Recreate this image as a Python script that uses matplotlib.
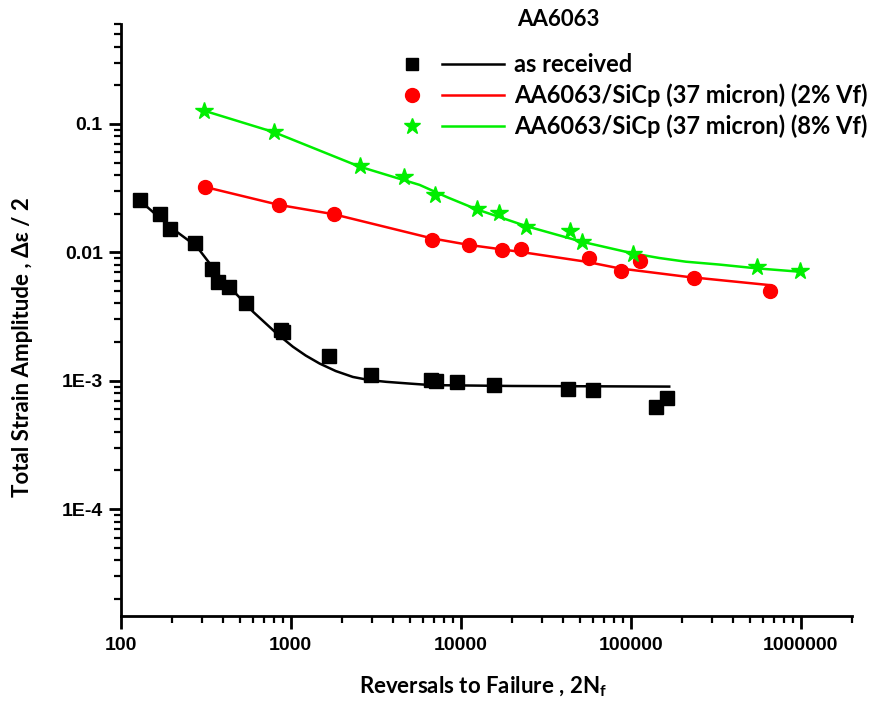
import matplotlib
matplotlib.use("Agg")
import matplotlib.pyplot as plt
from matplotlib.lines import Line2D
from matplotlib.legend_handler import HandlerTuple
from matplotlib.ticker import FixedLocator, FixedFormatter, NullFormatter, LogLocator

plt.rcParams["mathtext.fontset"] = "custom"
plt.rcParams["mathtext.bf"] = "Lato:bold"
plt.rcParams["mathtext.rm"] = "Lato:bold"

# puntos experimentales
x_recibido = [130, 170, 195, 273, 344, 373, 433, 546, 875, 900, 1670, 2960,
              6670, 7160, 9560, 15650, 42600, 60000, 140000, 163000]
y_recibido = [0.0255, 0.0199, 0.0152, 0.0118, 0.0074, 0.0059, 0.0054, 0.0040,
              0.0025, 0.0024, 0.00156, 0.00110, 0.00101, 0.00099, 0.00097,
              0.00093, 0.00086, 0.00084, 0.00062, 0.00073]

x_2vf = [313, 854, 1790, 6800, 11260, 17500, 22670, 57100, 87600, 113800,
         236000, 658000]
y_2vf = [0.0323, 0.0234, 0.0198, 0.0125, 0.0115, 0.0104, 0.0107, 0.0090,
         0.0071, 0.0085, 0.0063, 0.0050]

x_8vf = [308, 798, 2540, 4610, 7020, 12430, 16740, 24250, 44160, 51440,
         102500, 551500, 986000]
y_8vf = [0.127, 0.0862, 0.0473, 0.0388, 0.0280, 0.0218, 0.0204, 0.0157,
         0.0147, 0.0120, 0.0097, 0.00764, 0.00719]

# curvas de ajuste
xc_recibido = [130, 195, 280, 383, 601, 825, 1030, 1226, 1480, 1839, 2320,
               2913, 3650, 5003, 6710, 20000, 168400]
yc_recibido = [0.0252, 0.0158, 0.0111, 0.00646, 0.00344, 0.00234, 0.00184,
               0.00157, 0.00136, 0.00119, 0.00107, 0.00101, 0.00098, 0.00095,
               0.000924, 0.00091, 0.00090]

xc_2vf = [313, 854, 1790, 6740, 11260, 22150, 54600, 85700, 211000, 651000]
yc_2vf = [0.0323, 0.0234, 0.0198, 0.01286, 0.0114, 0.0101, 0.00845, 0.0075,
          0.00646, 0.00556]

xc_8vf = [308, 798, 2540, 5730, 8360, 12430, 24250, 51440, 102500, 147200,
          211100, 331300, 551500, 986000]
yc_8vf = [0.127, 0.0862, 0.0465, 0.0335, 0.0268, 0.0216, 0.0160, 0.0121,
          0.00982, 0.00903, 0.00845, 0.00803, 0.0075, 0.00706]

etiquetas = ["as received", "AA6063/SiCp (37 micron) (2% Vf)",
             "AA6063/SiCp (37 micron) (8% Vf)"]

x_ticks = [100, 1000, 10000, 100000, 1000000]
x_tick_labels = ["100", "1000", "10000", "100000", "1000000"]
y_ticks = [0.1, 0.01, 1e-3, 1e-4]
y_tick_labels = ["0.1", "0.01", "1E-3", "1E-4"]

verde = "#00ee00"
rojo = "#ff0000"

fig = plt.figure(figsize=(8.72, 7.08), dpi=100)
ax = fig.add_axes([0.1384, 0.1299, 0.8386, 0.8362])

ax.plot(xc_recibido, yc_recibido, color="black", lw=1.8)
ax.plot(xc_2vf, yc_2vf, color=rojo, lw=1.8)
ax.plot(xc_8vf, yc_8vf, color=verde, lw=1.8)
ax.plot(x_recibido, y_recibido, "s", color="black", ms=9.5)
ax.plot(x_2vf, y_2vf, "o", color=rojo, ms=10)
ax.plot(x_8vf, y_8vf, "*", color=verde, ms=13)

ax.set_xscale("log")
ax.set_yscale("log")
ax.set_xlim(100, 2e6)
ax.set_ylim(1.47e-5, 0.6)

ax.xaxis.set_major_locator(FixedLocator(x_ticks))
ax.xaxis.set_major_formatter(FixedFormatter(x_tick_labels))
ax.yaxis.set_major_locator(FixedLocator(y_ticks))
ax.yaxis.set_major_formatter(FixedFormatter(y_tick_labels))
ax.xaxis.set_minor_locator(LogLocator(base=10, subs=range(2, 10), numticks=20))
ax.yaxis.set_minor_locator(LogLocator(base=10, subs=range(2, 10), numticks=20))
ax.xaxis.set_minor_formatter(NullFormatter())
ax.yaxis.set_minor_formatter(NullFormatter())

for lado in ["top", "right"]:
    ax.spines[lado].set_visible(False)
for lado in ["left", "bottom"]:
    ax.spines[lado].set_linewidth(2)

ax.tick_params(which="major", direction="out", length=9, width=2)
ax.tick_params(which="minor", direction="out", length=5, width=1.6)
for lbl in ax.get_xticklabels() + ax.get_yticklabels():
    lbl.set_fontfamily("Liberation Sans")
    lbl.set_fontweight("bold")
    lbl.set_fontsize(14)
ax.tick_params(axis="x", pad=6)
ax.tick_params(axis="y", pad=4)

ax.set_xlabel(r"Reversals to Failure , 2N$_{\mathbf{f}}$", fontfamily="Lato",
              fontweight="bold", fontsize=16)
ax.set_ylabel("Total Strain Amplitude , Δε / 2", fontfamily="Lato",
              fontweight="bold", fontsize=16)
ax.xaxis.set_label_coords(0.495, -0.1)
ax.yaxis.set_label_coords(-0.12, 0.455)

# leyenda estilo Origin: marcador y linea por separado
h1 = (Line2D([], [], ls="none", marker="s", color="black", ms=9),
      Line2D([], [], color="black", lw=1.8))
h2 = (Line2D([], [], ls="none", marker="o", color=rojo, ms=10),
      Line2D([], [], color=rojo, lw=1.8))
h3 = (Line2D([], [], ls="none", marker="*", color=verde, ms=12),
      Line2D([], [], color=verde, lw=1.8))
fig.legend([h1, h2, h3], etiquetas, handler_map={tuple: HandlerTuple(ndivide=2, pad=0)},
           loc="upper left", bbox_to_anchor=(381 / 872, 1 - 53 / 708),
           frameon=False, borderpad=0, borderaxespad=0, handlelength=5.2,
           handletextpad=0.42, labelspacing=0.32,
           prop={"family": "Lato", "weight": "bold", "size": 17})
fig.text(517 / 872, 1 - 20 / 708, "AA6063", family="Lato", weight="bold",
         fontsize=16, va="center", ha="left")

fig.savefig("out.png", dpi=100)
